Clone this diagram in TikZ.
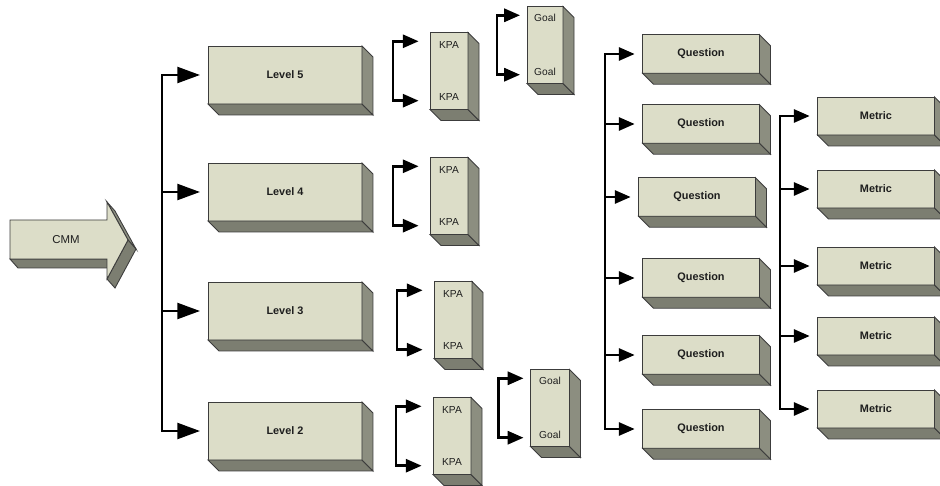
\documentclass[tikz,border=0pt]{standalone}
\usepackage{fontspec}
\setmainfont{Liberation Sans}
\usetikzlibrary{arrows.meta}

\definecolor{face}{HTML}{DCDDC8}
\definecolor{sideface}{HTML}{8C8E80}
\definecolor{botface}{HTML}{7C7E71}
\definecolor{edge}{HTML}{3C3C3C}
\definecolor{ink}{HTML}{1E1E1E}

% depth of the 3d slabs, drawn after the front faces
\newcommand\boxdepth[1]{%
  \filldraw[fill=botface,draw=edge,line width=0.5pt] (#1.south west) -- (#1.south east)
    -- ([shift={(11,11)}]#1.south east) -- ([shift={(11,11)}]#1.south west) -- cycle;
  \filldraw[fill=sideface,draw=edge,line width=0.5pt] (#1.north east) -- ([shift={(11,11)}]#1.north east)
    -- ([shift={(11,11)}]#1.south east) -- (#1.south east) -- cycle;}

\tikzset{
  slab/.style={draw=edge, fill=face, line width=0.5pt, inner sep=0pt, outer sep=0pt, text=ink, align=center},
  levelbox/.style={slab, minimum width=3.08cm, minimum height=1.16cm, font=\fontsize{6.2}{7}\selectfont\bfseries},
  kpabox/.style={slab, minimum width=0.76cm, minimum height=1.54cm, font=\fontsize{5.8}{7}\selectfont},
  qbox/.style={slab, minimum width=2.34cm, minimum height=0.77cm, font=\fontsize{6.2}{7}\selectfont\bfseries},
  flow/.style={line width=1.4pt, -{Triangle[length=9pt,width=7.5pt]}, shorten >=4.5pt},
  bigflow/.style={line width=1.7pt, -{Triangle[length=13pt,width=9pt]}, shorten >=4.5pt},
  bracket/.style={line width=1.4pt, {Triangle[length=9pt,width=7.5pt]}-{Triangle[length=9pt,width=7.5pt]}, shorten >=#1, shorten <=#1},
  bracket/.default=6.5pt,
}

\begin{document}
\begin{tikzpicture}[x=0.02cm, y=-0.02cm]
	\useasboundingbox (0,0) rectangle (940,486);

	% CMM arrow
	\filldraw[fill=botface,draw=edge,line width=0.5pt] (10,259) -- (107,259) -- (115,268) -- (18,268) -- cycle;
	\filldraw[fill=sideface,draw=edge,line width=0.5pt] (107,202) -- (115,211) -- (136,249) -- (128,240) -- cycle;
	\filldraw[fill=botface,draw=edge,line width=0.5pt] (128,240) -- (136,249) -- (115,288) -- (107,279) -- cycle;
	\filldraw[fill=face,draw=edge,line width=0.5pt] (10,220) -- (107,220) -- (107,202) -- (128,240)
		-- (107,279) -- (107,259) -- (10,259) -- cycle;
	\node[font=\fontsize{6.5}{8}\selectfont, text=ink] (cmm) at (66,240) {CMM};

	% levels
	\node[levelbox] (lvl5) at (285,75) {Level 5};
	\node[levelbox] (lvl4) at (285,192) {Level 4};
	\node[levelbox] (lvl3) at (285,311) {Level 3};
	\node[levelbox] (lvl2) at (285,431) {Level 2};

	% key process areas and goals
	\node[kpabox] (kpa5) at (449,71) {KPA\\[23pt]KPA};
	\node[kpabox] (kpa4) at (449,196) {KPA\\[23pt]KPA};
	\node[kpabox] (kpa3) at (453,320) {KPA\\[23pt]KPA};
	\node[kpabox] (kpa2) at (452,436) {KPA\\[23pt]KPA};
	\node[kpabox, minimum width=0.72cm] (goal5) at (545,45) {Goal\\[24pt]Goal};
	\node[kpabox, minimum width=0.78cm] (goal2) at (550,408) {Goal\\[24pt]Goal};

	% questions
	\node[qbox] (q1) at (701,54) {Question};
	\node[qbox] (q2) at (701,124) {Question};
	\node[qbox] (q3) at (697,197) {Question};
	\node[qbox] (q4) at (701,278) {Question};
	\node[qbox] (q5) at (701,355) {Question};
	\node[qbox] (q6) at (701,429) {Question};

	% metrics
	\node[qbox, minimum height=0.76cm] (m1) at (876,116) {Metric};
	\node[qbox, minimum height=0.76cm] (m2) at (876,189) {Metric};
	\node[qbox, minimum height=0.76cm] (m3) at (876,266) {Metric};
	\node[qbox, minimum height=0.76cm] (m4) at (876,336) {Metric};
	\node[qbox, minimum height=0.76cm] (m5) at (876,409) {Metric};

	\foreach \b in {lvl5,lvl4,lvl3,lvl2,kpa5,kpa4,kpa3,kpa2,goal5,goal2,q1,q2,q3,q4,q5,q6,m1,m2,m3,m4,m5}
		{\boxdepth{\b}}

	% trunks
	\coordinate (lvtrunk) at (162,0);
	\coordinate (qtrunk) at (605,0);
	\coordinate (mtrunk) at (780,0);

	\draw[bigflow] (lvl4.west -| lvtrunk) |- (lvl5.west);
	\draw[bigflow] (lvl4.west -| lvtrunk) |- (lvl2.west);
	\draw[bigflow] (lvl4.west -| lvtrunk) -- (lvl4.west);
	\draw[bigflow] (lvl3.west -| lvtrunk) -- (lvl3.west);

	\draw[bracket] ([yshift=-5pt]kpa5.north west) -- ++(-37,0) |- ([yshift=5pt]kpa5.south west);
	\draw[bracket] ([yshift=-5pt]kpa4.north west) -- ++(-37,0) |- ([yshift=5pt]kpa4.south west);
	\draw[bracket] ([yshift=-5pt]kpa3.north west) -- ++(-37,0) |- ([yshift=5pt]kpa3.south west);
	\draw[bracket] ([yshift=-5pt]kpa2.north west) -- ++(-37,0) |- ([yshift=5pt]kpa2.south west);
	\draw[bracket=4pt] ([yshift=-5pt]goal5.north west) -- ++(-30,0) |- ([yshift=5pt]goal5.south west);
	\draw[bracket=4pt] ([yshift=-5pt]goal2.north west) -- ++(-32,0) |- ([yshift=5pt]goal2.south west);

	\draw[flow] (q3.west -| qtrunk) |- (q1.west);
	\draw[flow] (q3.west -| qtrunk) |- (q6.west);
	\draw[flow] (q2.west -| qtrunk) -- (q2.west);
	\draw[flow] (q3.west -| qtrunk) -- (q3.west);
	\draw[flow] (q4.west -| qtrunk) -- (q4.west);
	\draw[flow] (q5.west -| qtrunk) -- (q5.west);

	\draw[flow] (m3.west -| mtrunk) |- (m1.west);
	\draw[flow] (m3.west -| mtrunk) |- (m5.west);
	\draw[flow] (m2.west -| mtrunk) -- (m2.west);
	\draw[flow] (m3.west -| mtrunk) -- (m3.west);
	\draw[flow] (m4.west -| mtrunk) -- (m4.west);
\end{tikzpicture}
\end{document}
